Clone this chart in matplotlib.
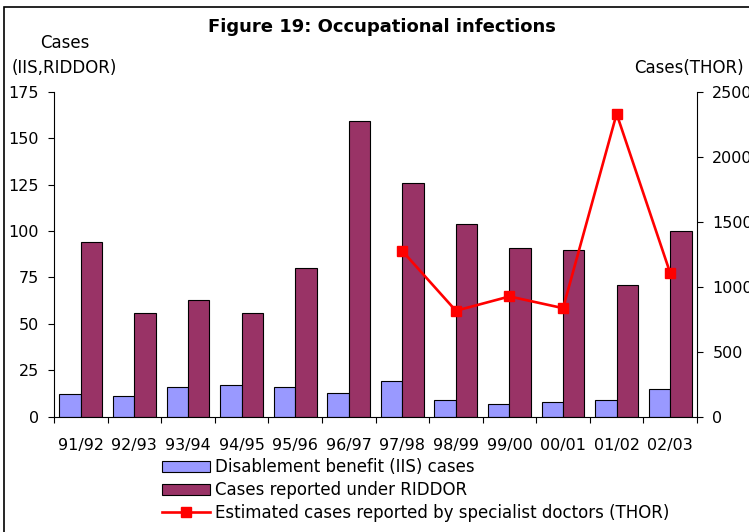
import matplotlib
matplotlib.use("Agg")
import matplotlib.pyplot as plt
import numpy as np
from matplotlib.patches import Rectangle

plt.rcParams['font.family'] = ['DejaVu Sans']

years = ["91/92", "92/93", "93/94", "94/95", "95/96", "96/97",
         "97/98", "98/99", "99/00", "00/01", "01/02", "02/03"]
iis = [12, 11, 16, 17, 16, 13, 19, 9, 7, 8, 9, 15]
riddor = [94, 56, 63, 56, 80, 159, 126, 104, 91, 90, 71, 100]
thor_years = ["97/98", "98/99", "99/00", "00/01", "01/02", "02/03"]
thor = [1275, 815, 925, 835, 2330, 1105]

W, H = 749, 532
fig = plt.figure(figsize=(W / 100, H / 100), dpi=100)
fig.patch.set_facecolor('white')

# outer frame
fig.patches.append(Rectangle((4 / W, -0.05), 1.1, 1 - 7 / H + 0.05, transform=fig.transFigure,
                             fill=False, edgecolor='black', lw=1.2))

left, right, top, bottom = 54, 697, 91.7, 416.7
ax = fig.add_axes([left / W, 1 - bottom / H, (right - left) / W, (bottom - top) / H])
ax.patch.set_alpha(0)

x = np.arange(len(years))
ax.bar(x - 0.2, iis, 0.4, color='#9999FF', edgecolor='black', lw=0.8,
       label='Disablement benefit (IIS) cases')
ax.bar(x + 0.2, riddor, 0.4, color='#993366', edgecolor='black', lw=0.8,
       label='Cases reported under RIDDOR')
ax.set_xlim(-0.5, len(years) - 0.5)
ax.set_ylim(0, 175)
ax.set_yticks(np.arange(0, 176, 25))
ax.set_xticks(x)
ax.set_xticklabels(years)
ax.set_xticks(np.arange(-0.5, len(years)), minor=True)
ax.tick_params(axis='x', which='major', length=0, pad=15, labelsize=11.5)
ax.tick_params(axis='x', which='minor', length=4, direction='out', width=0.8)
ax.tick_params(axis='y', length=4, width=0.8, direction='out', pad=7, labelsize=11.5)
for s in ['top', 'right']:
    ax.spines[s].set_visible(False)
ax.spines['left'].set_linewidth(0.8)
ax.spines['bottom'].set_linewidth(0.8)

ax2 = ax.twinx()
tx = [years.index(t) for t in thor_years]
ax2.plot(tx, thor, color='#FF0000', lw=1.9, marker='s', markersize=7,
         label='Estimated cases reported by specialist doctors (THOR)')
ax2.set_ylim(0, 2500)
ax2.set_yticks(np.arange(0, 2501, 500))
ax2.tick_params(axis='y', length=4, width=0.8, direction='out', pad=7, labelsize=11.5)
for s in ['top', 'left', 'bottom']:
    ax2.spines[s].set_visible(False)
ax2.spines['right'].set_linewidth(0.8)

fig.text(382 / W, 1 - 27 / H, "Figure 19: Occupational infections", ha='center', va='center',
         fontsize=13, fontweight='bold')
fig.text(65 / W, 1 - 43 / H, "Cases", ha='center', va='center', fontsize=12)
fig.text(64 / W, 1 - 68 / H, "(IIS,RIDDOR)", ha='center', va='center', fontsize=12)
fig.text(634 / W, 1 - 68 / H, "Cases(THOR)", ha='left', va='center', fontsize=12)

h1, l1 = ax.get_legend_handles_labels()
h2, l2 = ax2.get_legend_handles_labels()
fig.legend(h1 + h2, l1 + l2, loc='upper left', bbox_to_anchor=(162 / W, 1 - 458 / H),
           frameon=False, fontsize=12, borderpad=0, borderaxespad=0,
           handlelength=2.87, handletextpad=0.3, labelspacing=0.3, handleheight=0.65)

fig.savefig("out.png", dpi=100)
